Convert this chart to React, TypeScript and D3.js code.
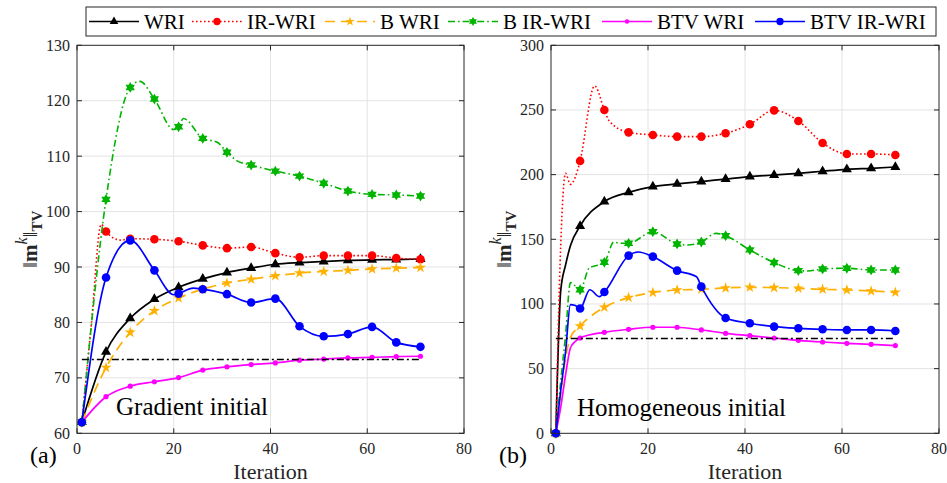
import React from "react";
import * as d3 from "d3";

type Pt = [number, number];

// ---------- axis ticks ----------
const xTicks = [0, 20, 40, 60, 80];
const gradientYTicks = [60, 70, 80, 90, 100, 110, 120, 130];
const homogeneousYTicks = [0, 50, 100, 150, 200, 250, 300];
const markerIterations = [1, 6, 11, 16, 21, 26, 31, 36, 41, 46, 51, 56, 61, 66, 71];

// true-model TV reference (dash-dot line)
const referenceTV = 73.3;
const referenceSpan = [1, 71];

const seriesLabels = ["WRI", "IR-WRI", "B WRI", "B IR-WRI", "BTV WRI", "BTV IR-WRI"];

// ---------- (a) gradient initial model ----------
const gradWRI: Pt[] = [
  [1, 62], [6, 74.7], [11, 80.75], [16, 84.2], [21, 86.35], [26, 87.85], [31, 89.0], [36, 89.8],
  [41, 90.5], [46, 90.8], [51, 91.0], [56, 91.2], [61, 91.3], [66, 91.35], [71, 91.45],
];
const gradIRWRI: Pt[] = [
  [1, 62], [3, 80], [5, 97.7], [6, 96.4], [9, 94.85], [11, 95.1], [16, 95.0], [21, 94.65], [26, 93.9],
  [31, 93.4], [36, 93.6], [41, 92.5], [46, 91.75], [51, 92.05], [56, 92.05], [61, 92.05],
  [66, 91.6], [71, 91.4],
];
const gradBWRI: Pt[] = [
  [1, 62], [6, 71.85], [11, 78.2], [16, 82.1], [21, 84.4], [26, 86.0], [31, 87.1], [36, 87.8],
  [41, 88.4], [46, 88.9], [51, 89.2], [56, 89.4], [61, 89.65], [66, 89.8], [71, 89.9],
];
const gradBIRWRI: Pt[] = [
  [1, 62], [6, 102.2], [11, 122.4], [13, 123.5], [16, 120.3], [20, 114.8], [21, 115.3],
  [22, 116.8], [26, 113.2], [29, 112.5], [31, 110.7], [33, 109.2], [36, 108.4], [41, 107.3],
  [46, 106.4], [51, 105.1], [56, 103.7], [61, 103.1], [66, 103.0], [71, 102.8],
];
const gradBTVWRI: Pt[] = [
  [1, 62], [6, 66.6], [11, 68.5], [16, 69.3], [21, 70.05], [26, 71.4], [31, 72.0], [36, 72.4],
  [41, 72.7], [46, 73.2], [51, 73.4], [56, 73.6], [61, 73.7], [66, 73.85], [71, 73.9],
];
const gradBTVIRWRI: Pt[] = [
  [1, 62], [6, 88.1], [11, 94.8], [16, 89.4], [20, 85.0], [21, 85.2], [24, 86.2], [26, 86.0],
  [31, 85.1], [36, 83.6], [41, 84.3], [46, 79.3], [51, 77.5], [56, 77.9], [61, 79.2],
  [66, 76.4], [71, 75.6],
];

// ---------- (b) homogeneous initial model ----------
const homWRI: Pt[] = [
  [1, 0], [2, 110], [3, 130], [4, 145], [6, 160.3], [11, 179.1], [16, 186.3], [21, 190.7],
  [26, 192.8], [31, 194.6], [36, 196.6], [41, 198.5], [46, 199.7], [51, 201.0], [56, 202.6],
  [61, 204.1], [66, 204.9], [71, 205.9],
];
const homIRWRI: Pt[] = [
  [1, 0], [2, 145], [3, 201], [4, 192.5], [5, 198], [6, 210.6], [9, 268.6], [11, 250],
  [12, 241.5], [16, 232.7], [21, 230.7], [26, 229.4], [31, 229.4], [36, 232], [41, 238.9],
  [46, 249.7], [51, 241.5], [56, 224.5], [61, 216], [66, 216], [71, 215.2],
];
const homBWRI: Pt[] = [
  [1, 0], [2, 30], [3, 58], [4, 74], [6, 83], [11, 97.4], [16, 104.9], [21, 108.8],
  [26, 110.8], [31, 111.3], [36, 112.4], [41, 112.9], [46, 112.6], [51, 112.1], [56, 111.3],
  [61, 110.8], [66, 110.05], [71, 109.0],
];
const homBIRWRI: Pt[] = [
  [1, 0], [2, 40], [3, 76], [4, 116.5], [5, 114], [6, 111], [8, 128.4], [9, 129.3],
  [11, 132.2], [13, 148], [14, 147], [16, 146.9], [21, 155.9], [26, 146.4], [28, 145.6],
  [31, 147.9], [34, 154.6], [36, 152.8], [41, 141.8], [46, 132], [51, 125.8], [53, 125.5],
  [56, 127.1], [61, 127.6], [66, 126.3], [71, 126.3],
];
const homBTVWRI: Pt[] = [
  [1, 0], [2, 20], [3, 45], [4, 66], [5, 71], [6, 73.7], [11, 78.1], [16, 80.4], [21, 82],
  [26, 82], [31, 79.9], [36, 77.3], [41, 75.5], [46, 73.7], [51, 71.9], [56, 70.6],
  [61, 69.6], [66, 68.8], [71, 67.8],
];
const homBTVIRWRI: Pt[] = [
  [1, 0], [2, 33], [3, 63], [4, 99.5], [5, 98.8], [6, 96.5], [8, 111], [10, 105.6],
  [11, 109.2], [16, 137.4], [18, 140.2], [21, 136.6], [26, 125.8], [30, 121], [31, 113.4],
  [36, 89.2], [41, 85.1], [46, 82.5], [51, 81.2], [56, 80.4], [61, 79.9], [66, 79.9], [71, 79.1],
];

const gradientSeries = [gradWRI, gradIRWRI, gradBWRI, gradBIRWRI, gradBTVWRI, gradBTVIRWRI];
const homogeneousSeries = [homWRI, homIRWRI, homBWRI, homBIRWRI, homBTVWRI, homBTVIRWRI];

// ---------- styling ----------
const FONT = "'Liberation Serif', serif";
const AXIS_COLOR = "#262626";
const GRID_COLOR = "#e3e3e3";

type MarkerKind = "triangle" | "circle" | "star" | "hexagram" | "dot";
const seriesStyles: { color: string; dash?: string; marker: MarkerKind; width: number }[] = [
  { color: "#000000", marker: "triangle", width: 1.7 },
  { color: "#ff0000", dash: "1.6 2.4", marker: "circle", width: 1.6 },
  { color: "#ffb000", dash: "10 6", marker: "star", width: 1.7 },
  { color: "#00b400", dash: "7 3 1.6 3", marker: "hexagram", width: 1.6 },
  { color: "#ff00ff", marker: "dot", width: 1.7 },
  { color: "#0000ff", marker: "circle", width: 1.7 },
];

function hexagramPath(R: number): string {
  const pts: string[] = [];
  for (let i = 0; i < 12; i++) {
    const a = (-90 + i * 30) * (Math.PI / 180);
    const r = i % 2 === 0 ? R : R * 0.58;
    pts.push(`${(r * Math.cos(a)).toFixed(2)},${(r * Math.sin(a)).toFixed(2)}`);
  }
  return `M${pts.join("L")}Z`;
}

function Marker({ kind, x, y, color, scale = 1 }: { kind: MarkerKind; x: number; y: number; color: string; scale?: number }) {
  const t = `translate(${x},${y}) scale(${scale})`;
  switch (kind) {
    case "triangle":
      return <path transform={t} d={d3.symbol(d3.symbolTriangle, 44)() as string} fill={color} />;
    case "circle":
      return <circle transform={t} r={4.3} fill={color} />;
    case "dot":
      return <circle transform={t} r={2.6} fill={color} />;
    case "star":
      return <path transform={t} d={d3.symbol(d3.symbolStar, 38)() as string} fill={color} />;
    case "hexagram":
      return <path transform={t} d={hexagramPath(5.4)} fill={color} />;
  }
}

// serif text helper so every label shares one font stack
function T(props: React.SVGProps<SVGTextElement>) {
  return <text {...props} style={{ fontFamily: FONT }} />;
}

type Box = { left: number; right: number; top: number; bottom: number };

function Panel({
  box, yDomain, yTicks, series, note, noteX, noteY, tag, tagX, labelX,
}: {
  box: Box; yDomain: [number, number]; yTicks: number[]; series: Pt[][];
  note: string; noteX: number; noteY: number; tag: string; tagX: number; labelX: number;
}) {
  const x = d3.scaleLinear().domain([0, 80]).range([box.left, box.right]);
  const y = d3.scaleLinear().domain(yDomain).range([box.bottom, box.top]);
  const line = d3.line<Pt>().x((d) => x(d[0])).y((d) => y(d[1])).curve(d3.curveMonotoneX);
  const tick = 5;
  const midY = (box.top + box.bottom) / 2;

  return (
    <g>
      {/* grid */}
      {xTicks.slice(1, -1).map((t) => (
        <line key={`gx${t}`} x1={x(t)} x2={x(t)} y1={box.top} y2={box.bottom} stroke={GRID_COLOR} strokeWidth={1} />
      ))}
      {yTicks.slice(1, -1).map((t) => (
        <line key={`gy${t}`} x1={box.left} x2={box.right} y1={y(t)} y2={y(t)} stroke={GRID_COLOR} strokeWidth={1} />
      ))}

      {/* series */}
      {series.map((pts, i) => {
        const s = seriesStyles[i];
        const marks = pts.filter((p) => markerIterations.includes(p[0]));
        return (
          <g key={`s${i}`}>
            <path d={line(pts) as string} fill="none" stroke={s.color} strokeWidth={s.width}
              strokeDasharray={s.dash} strokeLinejoin="round" />
            {marks.map((p) => (
              <Marker key={p[0]} kind={s.marker} x={x(p[0])} y={y(p[1])} color={s.color} />
            ))}
          </g>
        );
      })}

      {/* reference TV */}
      <line x1={x(referenceSpan[0])} x2={x(referenceSpan[1])} y1={y(referenceTV)} y2={y(referenceTV)}
        stroke="#000" strokeWidth={1.5} strokeDasharray="7 3 2 3" />

      {/* frame and ticks */}
      <rect x={box.left} y={box.top} width={box.right - box.left} height={box.bottom - box.top}
        fill="none" stroke={AXIS_COLOR} strokeWidth={1} />
      {xTicks.map((t) => (
        <g key={`tx${t}`}>
          <line x1={x(t)} x2={x(t)} y1={box.bottom} y2={box.bottom - tick} stroke={AXIS_COLOR} />
          <line x1={x(t)} x2={x(t)} y1={box.top} y2={box.top + tick} stroke={AXIS_COLOR} />
          <T x={x(t)} y={box.bottom + 20.5} textAnchor="middle" fontSize={16} fill={AXIS_COLOR}>{t}</T>
        </g>
      ))}
      {yTicks.map((t) => (
        <g key={`ty${t}`}>
          <line x1={box.left} x2={box.left + tick} y1={y(t)} y2={y(t)} stroke={AXIS_COLOR} />
          <line x1={box.right} x2={box.right - tick} y1={y(t)} y2={y(t)} stroke={AXIS_COLOR} />
          <T x={box.left - 7} y={y(t) + 5.5} textAnchor="end" fontSize={16} fill={AXIS_COLOR}>{t}</T>
        </g>
      ))}

      {/* axis titles */}
      <T x={(box.left + box.right) / 2} y={479} textAnchor="middle" fontSize={22} fill={AXIS_COLOR}>
        Iteration
      </T>
      <T transform={`translate(${labelX},${midY}) rotate(-90)`} textAnchor="middle" fontSize={21} fill={AXIS_COLOR}>
        <tspan>‖</tspan>
        <tspan fontWeight="bold">m</tspan>
        <tspan fontSize={16} fontStyle="italic" dy={-10}>k</tspan>
        <tspan dy={10}>‖</tspan>
        <tspan fontSize={15} fontWeight="bold" dy={5}>TV</tspan>
      </T>

      {/* annotations */}
      <T x={noteX} y={noteY} fontSize={25} fill="#000">{note}</T>
      <T x={tagX} y={463} fontSize={24} fill="#000">{tag}</T>
    </g>
  );
}

function Legend() {
  const starts = [89, 192, 325, 448, 602, 755];
  const top = 7, bottom = 36, left = 86, right = 936;
  const cy = 21.5;
  return (
    <g>
      <rect x={left} y={top} width={right - left} height={bottom - top} fill="#fff" stroke={AXIS_COLOR} strokeWidth={1} />
      {seriesLabels.map((label, i) => {
        const s = seriesStyles[i];
        const x0 = starts[i];
        return (
          <g key={label}>
            <line x1={x0} x2={x0 + 50} y1={cy} y2={cy} stroke={s.color} strokeWidth={s.width} strokeDasharray={s.dash} />
            <Marker kind={s.marker} x={x0 + 25} y={cy} color={s.color} scale={0.85} />
            <T x={x0 + 55} y={28.5} fontSize={21} fill="#000">{label}</T>
          </g>
        );
      })}
    </g>
  );
}

export default function App() {
  return (
    <svg width={947} height={483} viewBox="0 0 947 483"
      style={{ position: "absolute", left: 0, top: 0, background: "#fff" }}>
      <rect width={947} height={483} fill="#fff" />
      <Panel
        box={{ left: 77, right: 464, top: 45.3, bottom: 433.3 }}
        yDomain={[60, 130]} yTicks={gradientYTicks} series={gradientSeries}
        note="Gradient initial" noteX={116} noteY={415} tag="(a)" tagX={30} labelX={37}
      />
      <Panel
        box={{ left: 551, right: 939, top: 45.3, bottom: 433.3 }}
        yDomain={[0, 300]} yTicks={homogeneousYTicks} series={homogeneousSeries}
        note="Homogeneous initial" noteX={577} noteY={416} tag="(b)" tagX={499} labelX={511}
      />
      <Legend />
    </svg>
  );
}
